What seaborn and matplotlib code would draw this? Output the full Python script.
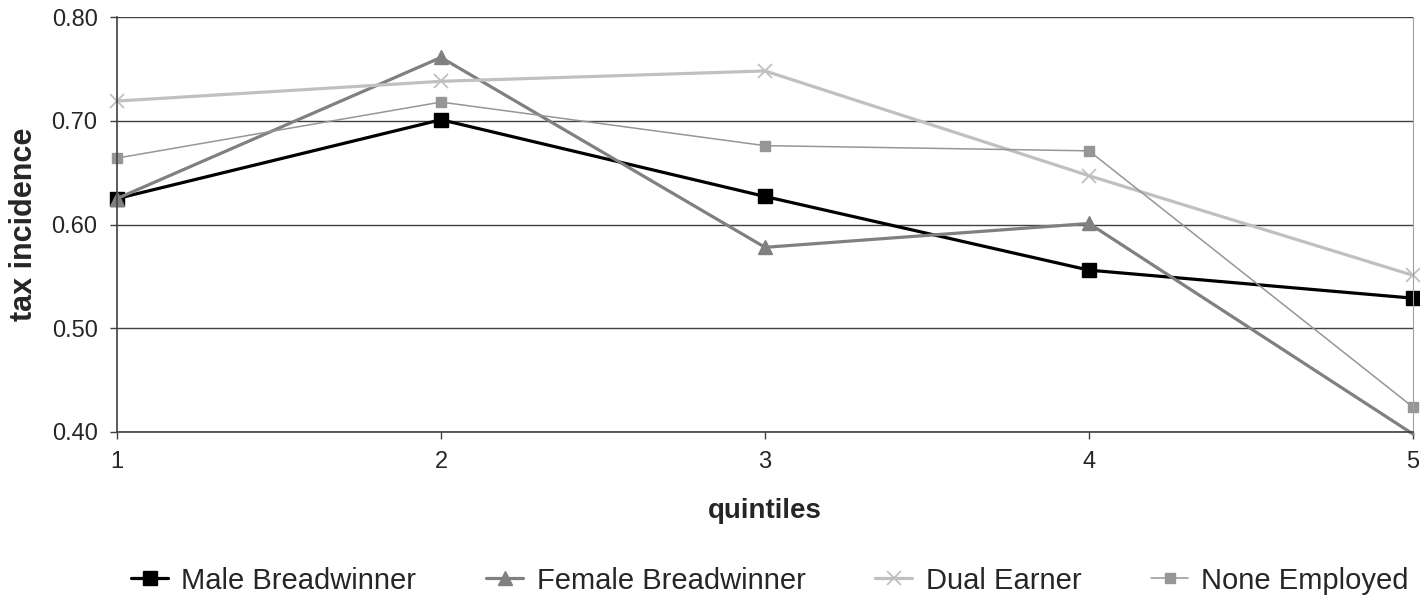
import seaborn as sns
import matplotlib.pyplot as plt
import pandas as pd

# values
quintiles = [1, 2, 3, 4, 5]
male_breadwinner = [0.625, 0.701, 0.627, 0.556, 0.529]
female_breadwinner = [0.625, 0.761, 0.578, 0.601, 0.398]
dual_earner = [0.719, 0.738, 0.748, 0.647, 0.551]
none_employed = [0.664, 0.718, 0.676, 0.671, 0.424]
series_names = ["Male Breadwinner", "Female Breadwinner", "Dual Earner", "None Employed"]
y_ticks = [0.40, 0.50, 0.60, 0.70, 0.80]

df = pd.DataFrame({
    "quintiles": quintiles * 4,
    "tax incidence": male_breadwinner + female_breadwinner + dual_earner + none_employed,
    "group": [n for n in series_names for _ in quintiles],
})

sns.set_style("white")
plt.rcParams["font.family"] = ["Liberation Sans", "DejaVu Sans"]

fig = plt.figure(figsize=(14.2, 5.96), dpi=100)
ax = fig.add_axes([117 / 1420, 1 - 432 / 596, (1413 - 117) / 1420, (432 - 17) / 596])

styles = {
    "Male Breadwinner": dict(color="#000000", marker="s", lw=2.3, ms=9.5, mew=1),
    "Female Breadwinner": dict(color="#808080", marker="^", lw=2.3, ms=10, mew=1),
    "Dual Earner": dict(color="#c0c0c0", marker="x", lw=2.3, ms=10, mew=1.3),
    "None Employed": dict(color="#969696", marker="s", lw=1.1, ms=6.5, mew=1),
}

for name in series_names:
    st = styles[name]
    sns.lineplot(data=df[df["group"] == name], x="quintiles", y="tax incidence",
                 ax=ax, color=st["color"], marker=st["marker"], linewidth=st["lw"],
                 markersize=st["ms"], markeredgecolor=st["color"], markeredgewidth=st["mew"],
                 label=name)

for line, name in zip(ax.lines, series_names):
    line.set_clip_on(False)
    if name == "Female Breadwinner":
        # last point lies below the axis floor: its marker is hidden like in the original
        line.set_markevery([0, 1, 2, 3])

ax.set_xlim(1, 5)
ax.set_ylim(0.40, 0.80)
ax.set_yticks(y_ticks)
ax.set_yticklabels([f"{v:.2f}" for v in y_ticks])
ax.set_xticks(quintiles)
ax.yaxis.grid(True, color="#404040", linewidth=1)
ax.set_axisbelow(True)

ax.spines["top"].set_visible(False)
ax.spines["right"].set_color("#a0a0a0")
ax.spines["left"].set_color("#404040")
ax.spines["bottom"].set_color("#404040")
ax.spines["left"].set_linewidth(1.2)
ax.spines["bottom"].set_linewidth(1.2)

ax.tick_params(axis="both", direction="out", length=5, width=1, color="#404040",
               labelsize=17, pad=9, bottom=True, left=True)
ax.set_xlabel("quintiles", fontsize=20, fontweight="bold")
ax.set_ylabel("tax incidence", fontsize=22, fontweight="bold")
ax.xaxis.set_label_coords(0.5, -0.16)
ax.yaxis.set_label_coords(-0.072, 0.5)
ax.xaxis.label.set_va("top")
ax.yaxis.label.set_va("center")

ax.legend(loc="center", bbox_to_anchor=(770 / 1420, 0.026), bbox_transform=fig.transFigure,
          ncol=4, frameon=False, fontsize=21, handlelength=1.27, handletextpad=0.45,
          columnspacing=2.4, borderpad=0, borderaxespad=0)

fig.savefig("out.png", dpi=100)
